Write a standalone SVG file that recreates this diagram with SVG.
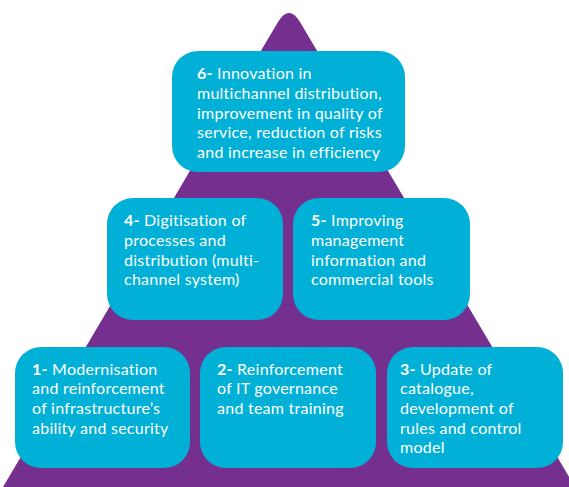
<svg xmlns="http://www.w3.org/2000/svg" width="569" height="487" viewBox="0 0 569 487">
  <style>
    .box { fill: #00B0D6; }
    .t { font-family: Lato, "Open Sans", sans-serif; font-size: 16px; letter-spacing: 0.25px; fill: #ffffff; }
    .n { font-weight: bold; }
  </style>
  <rect width="569" height="487" fill="#ffffff"/>
  <!-- pyramid -->
  <path d="M 278 22 Q 289 4 300 22 L 575 487 L 3 487 Z" fill="#752F8E"/>

  <g id="node6">
    <rect class="box" x="172" y="51" width="233" height="121" rx="26"/>
    <text class="t" x="197" y="79"><tspan class="n">6-</tspan> Innovation in</text>
    <text class="t" x="197" y="99">multichannel distribution,</text>
    <text class="t" x="197" y="119">improvement in quality of</text>
    <text class="t" x="197" y="138">service, reduction of risks</text>
    <text class="t" x="197" y="158">and increase in efficiency</text>
  </g>

  <g id="node4">
    <rect class="box" x="107" y="198" width="176" height="122" rx="26"/>
    <text class="t" x="124" y="226"><tspan class="n">4-</tspan> Digitisation of</text>
    <text class="t" x="124" y="246">processes and</text>
    <text class="t" x="124" y="266">distribution (multi-</text>
    <text class="t" x="124" y="285">channel system)</text>
  </g>

  <g id="node5">
    <rect class="box" x="293" y="198" width="177" height="122" rx="26"/>
    <text class="t" x="311" y="226"><tspan class="n">5-</tspan> Improving</text>
    <text class="t" x="311" y="246">management</text>
    <text class="t" x="311" y="266">information and</text>
    <text class="t" x="311" y="285">commercial tools</text>
  </g>

  <g id="node1">
    <rect class="box" x="15" y="347" width="175" height="121" rx="26"/>
    <text class="t" x="32" y="375"><tspan class="n">1-</tspan> Modernisation</text>
    <text class="t" x="32" y="394">and reinforcement</text>
    <text class="t" x="32" y="414">of infrastructure’s</text>
    <text class="t" x="32" y="434">ability and security</text>
  </g>

  <g id="node2">
    <rect class="box" x="200" y="347" width="176" height="121" rx="26"/>
    <text class="t" x="217" y="375"><tspan class="n">2-</tspan> Reinforcement</text>
    <text class="t" x="217" y="394">of IT governance</text>
    <text class="t" x="217" y="414">and team training</text>
  </g>

  <g id="node3">
    <rect class="box" x="387" y="347" width="176" height="121" rx="26"/>
    <text class="t" x="400" y="375"><tspan class="n">3-</tspan> Update of</text>
    <text class="t" x="400" y="394">catalogue,</text>
    <text class="t" x="400" y="414">development of</text>
    <text class="t" x="400" y="434">rules and control</text>
    <text class="t" x="400" y="453">model</text>
  </g>

  <g id="connectors"/>
</svg>
